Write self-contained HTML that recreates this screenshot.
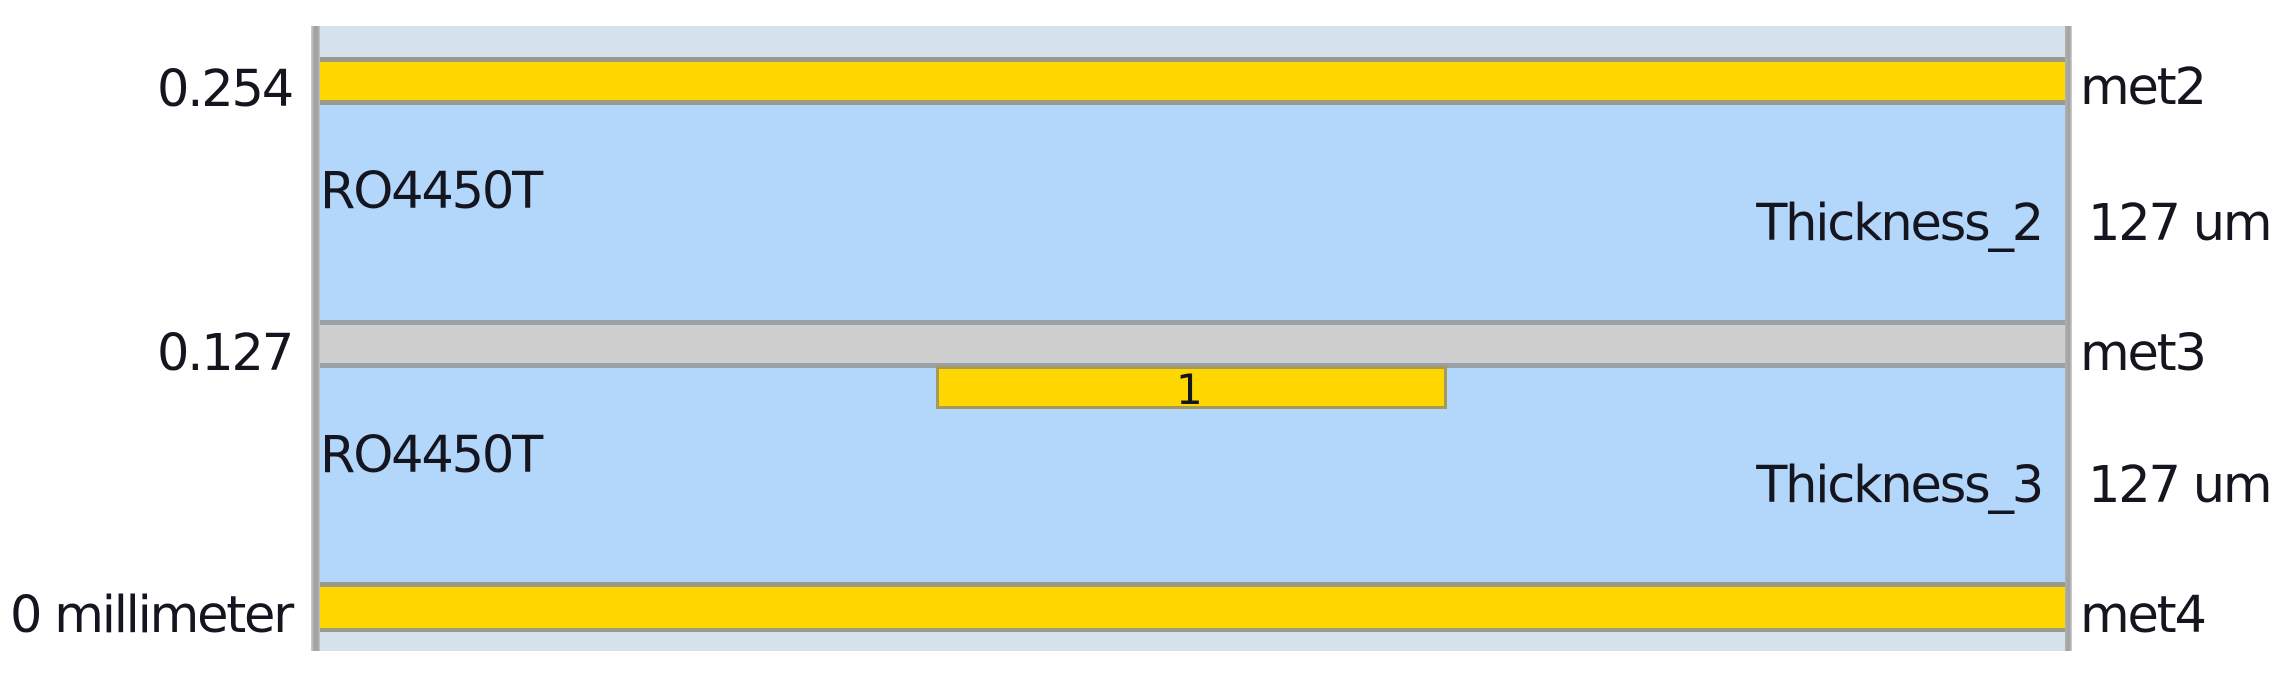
<!DOCTYPE html>
<html><head><meta charset="utf-8"><style>
html,body{margin:0;padding:0;background:#fff;}
body{width:2288px;height:677px;position:relative;overflow:hidden;font-family:"DejaVu Sans","Liberation Sans",sans-serif;color:#15151f;}
.b{position:absolute;left:318px;width:1750px;}
.t{position:absolute;font-size:51px;line-height:1;white-space:nowrap;letter-spacing:-2.2px;}
.r{text-align:right;}
</style></head><body>
<div class="b" style="top:26px;height:32px;background:#d5e2ec"></div>
<div class="b" style="top:57px;height:5px;background:#9a9a8c"></div>
<div class="b" style="top:62px;height:38px;background:#ffd700"></div>
<div class="b" style="top:100px;height:5px;background:#9a9a8c"></div>
<div class="b" style="top:105px;height:215px;background:#b3d7fb"></div>
<div class="b" style="top:320px;height:5px;background:#9aa0a8"></div>
<div class="b" style="top:325px;height:38px;background:#cfcfcf"></div>
<div class="b" style="top:363px;height:5px;background:#9aa0a8"></div>
<div class="b" style="top:368px;height:214px;background:#b3d7fb"></div>
<div class="b" style="top:582px;height:5px;background:#9a9a8c"></div>
<div class="b" style="top:587px;height:41px;background:#ffd700"></div>
<div class="b" style="top:628px;height:4px;background:#9a9a8c"></div>
<div class="b" style="top:632px;height:19px;background:#d5e2ec"></div>
<div style="position:absolute;left:311px;top:26px;width:9px;height:625px;background:linear-gradient(90deg,#d0d0d0,#a0a0a0 40%,#a8a8a8 80%,#c8c8c8)"></div>
<div style="position:absolute;left:2065px;top:26px;width:7px;height:625px;background:linear-gradient(90deg,#b0b0b0,#a0a0a0 60%,#d0d0d0)"></div>
<div style="position:absolute;left:936px;top:366px;width:511px;height:43px;background:#ffd700;border:3px solid #a59a5a;box-sizing:border-box"></div>
<div class="t" style="left:1176px;top:369px;font-size:42px;letter-spacing:0">1</div>
<div class="t r" style="right:1996px;top:64px">0.254</div>
<div class="t r" style="right:1996px;top:328px">0.127</div>
<div class="t r" style="right:1996px;top:590px">0 millimeter</div>
<div class="t" style="left:320px;top:166px">RO4450T</div>
<div class="t" style="left:320px;top:430px">RO4450T</div>
<div class="t r" style="right:246px;top:198px">Thickness_2</div>
<div class="t r" style="right:246px;top:460px">Thickness_3</div>
<div class="t" style="left:2080px;top:62px">met2</div>
<div class="t" style="left:2080px;top:328px">met3</div>
<div class="t" style="left:2080px;top:590px">met4</div>
<div class="t" style="left:2088px;top:198px">127 um</div>
<div class="t" style="left:2088px;top:460px">127 um</div>
</body></html>
